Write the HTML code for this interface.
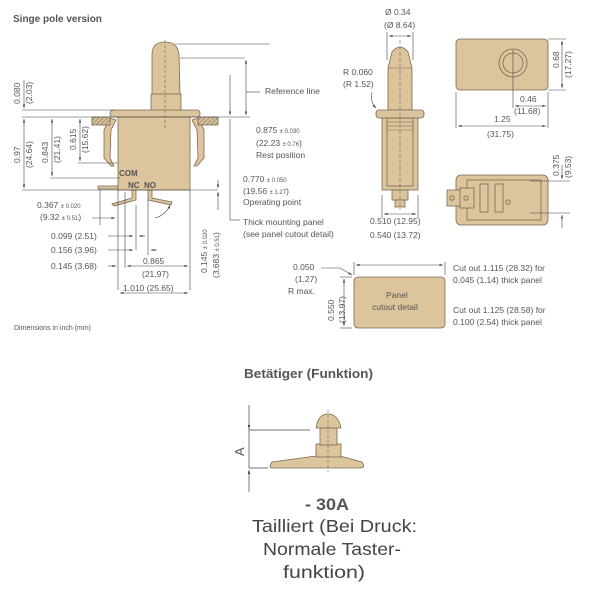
<!DOCTYPE html>
<html><head><style>
body{margin:0;background:#fff}
svg{display:block}
text{font-family:"Liberation Sans",Arial,sans-serif;fill:#555}
</style></head><body>
<svg width="600" height="600" viewBox="0 0 600 600" xmlns="http://www.w3.org/2000/svg">
<defs>
<marker id="a" viewBox="0 0 10 10" refX="10" refY="5" markerWidth="6" markerHeight="6" orient="auto-start-reverse"><path d="M0,2 L10,5 L0,8z" fill="#333"/></marker>
<pattern id="h" width="3" height="3" patternUnits="userSpaceOnUse" patternTransform="rotate(45)"><rect width="3" height="3" fill="#d8bf98"/><line x1="0" y1="0" x2="0" y2="3" stroke="#7a6a50" stroke-width="1"/></pattern>
</defs>
<g font-size="8.5">
<text x="13" y="22" font-weight="bold" font-size="10" fill="#222">Singe pole version</text>

<!-- LEFT VIEW -->
<g stroke="#7a6a50" stroke-width="0.8" fill="#dcc49c">
<path d="M152,95 L152,55 Q152,42 165,42 Q178,42 179,55 L180,95 Z"/>
<rect x="151" y="94" width="30" height="17"/>
<rect x="110" y="110" width="90" height="7" rx="3"/>
<rect x="118" y="117" width="72" height="73"/>
<path d="M110,118 L104,130 L104,158 L111,166 L114,166 L110,158 L111,130 L116,120 Z"/>
<path d="M198,118 L204,130 L204,158 L197,166 L194,166 L198,158 L197,130 L192,120 Z"/>
<rect x="92" y="117" width="18" height="8" fill="url(#h)"/>
<rect x="198" y="117" width="20" height="8" fill="url(#h)"/>
<path d="M98,186 L118,186 L118,189 L98,189 Z"/>
<path d="M132,190 L136,190 L136,200 L114,206 L112,204 L132,198 Z"/>
<path d="M148,190 L152,190 L152,198 L172,202 L171,205 L148,200 Z"/>
</g>
<line x1="165" y1="40" x2="165" y2="130" stroke="#666" stroke-width="0.6" stroke-dasharray="3,2"/>
<text x="119" y="176" font-size="8" font-weight="bold" fill="#222">COM</text>
<text x="128" y="188" font-size="8" font-weight="bold" fill="#222">NC</text>
<text x="144" y="188" font-size="8" font-weight="bold" fill="#222">NO</text>

<g stroke="#444" stroke-width="0.6" fill="none">
<line x1="175" y1="44" x2="270" y2="44"/><line x1="180" y1="58" x2="245" y2="58"/>
<line x1="22" y1="110" x2="115" y2="110"/><line x1="22" y1="117" x2="250" y2="117"/>
<line x1="22" y1="190" x2="218" y2="190"/><line x1="50" y1="178" x2="120" y2="178"/><line x1="78" y1="163" x2="118" y2="163"/>
<line x1="24" y1="80" x2="24" y2="108" marker-end="url(#a)"/>
<line x1="24" y1="119" x2="24" y2="188" marker-start="url(#a)" marker-end="url(#a)"/>
<line x1="52" y1="119" x2="52" y2="176" marker-start="url(#a)" marker-end="url(#a)"/>
<line x1="80" y1="119" x2="80" y2="161" marker-start="url(#a)" marker-end="url(#a)"/>
<line x1="246" y1="60" x2="246" y2="115" marker-start="url(#a)" marker-end="url(#a)"/>
<line x1="260" y1="92" x2="246" y2="92"/>
<line x1="230" y1="75" x2="230" y2="115" marker-end="url(#a)"/>
<line x1="230" y1="119" x2="230" y2="220"/><line x1="230" y1="220" x2="240" y2="220"/>
<line x1="218" y1="180" x2="218" y2="188" marker-end="url(#a)"/>
<line x1="218" y1="210" x2="218" y2="192" marker-end="url(#a)"/>
<line x1="118" y1="190" x2="118" y2="290"/><line x1="190" y1="190" x2="190" y2="290"/>
<line x1="125" y1="192" x2="125" y2="268"/><line x1="136" y1="205" x2="136" y2="250"/><line x1="148" y1="200" x2="148" y2="255"/><line x1="100" y1="189" x2="100" y2="225"/>
<line x1="92" y1="218" x2="115" y2="218" marker-end="url(#a)"/>
<line x1="108" y1="236" x2="133" y2="236" marker-end="url(#a)"/><line x1="145" y1="236" x2="139" y2="236" marker-end="url(#a)"/>
<line x1="108" y1="250" x2="133" y2="250" marker-end="url(#a)"/><line x1="157" y1="250" x2="151" y2="250" marker-end="url(#a)"/>
<line x1="108" y1="266" x2="116" y2="266" marker-end="url(#a)"/><line x1="127" y1="266" x2="188" y2="266" marker-start="url(#a)" marker-end="url(#a)"/>
<line x1="120" y1="293" x2="188" y2="293" marker-start="url(#a)" marker-end="url(#a)"/>
<path d="M155,218 Q166,215 170,205" marker-end="url(#a)"/>
</g>
<text transform="translate(20,104) rotate(-90)">0.080</text><text transform="translate(32,104) rotate(-90)">(2.03)</text>
<text transform="translate(20,163) rotate(-90)">0.97</text><text transform="translate(32,168) rotate(-90)">(24.64)</text>
<text transform="translate(48,163) rotate(-90)">0.843</text><text transform="translate(60,163) rotate(-90)">(21.41)</text>
<text transform="translate(76,150) rotate(-90)">0.615</text><text transform="translate(88,153) rotate(-90)">(15.62)</text>
<text x="265" y="94">Reference line</text>
<text x="256" y="133">0.875 <tspan font-size="6">± 0.030</tspan></text>
<text x="256" y="146">(22.23 <tspan font-size="6">± 0.76</tspan>)</text>
<text x="256" y="158">Rest position</text>
<text x="243" y="182">0.770 <tspan font-size="6">± 0.050</tspan></text>
<text x="243" y="194">(19.56 <tspan font-size="6">± 1.27</tspan>)</text>
<text x="243" y="205">Operating point</text>
<text x="243" y="225">Thick mounting panel</text>
<text x="243" y="237">(see panel cutout detail)</text>
<text x="37" y="208">0.367 <tspan font-size="6">± 0.020</tspan></text>
<text x="40" y="220">(9.32 <tspan font-size="6">± 0.51</tspan>)</text>
<text x="51" y="239">0.099 (2.51)</text>
<text x="51" y="253">0.156 (3.96)</text>
<text x="51" y="269">0.145 (3.68)</text>
<text x="143" y="264">0.865</text><text x="142" y="277">(21.97)</text>
<text x="123" y="291">1.010 (25.65)</text>
<text transform="translate(207,273) rotate(-90)">0.145 <tspan font-size="6">± 0.020</tspan></text>
<text transform="translate(219,278) rotate(-90)">(3.683 <tspan font-size="6">± 0.51</tspan>)</text>
<text x="14" y="330" font-size="7">Dimensions in inch (mm)</text>

<!-- SIDE VIEW -->
<g stroke="#7a6a50" stroke-width="0.8" fill="#dcc49c">
<path d="M388,110 L388,68 L392,52 Q400,42 408,52 L412,68 L412,110Z"/>
<rect x="376" y="110" width="48" height="8" rx="3"/>
<rect x="382" y="118" width="36" height="72"/>
<rect x="387" y="118" width="26" height="68" fill="none"/>
<rect x="392" y="190" width="16" height="10"/>
<rect x="395" y="200" width="10" height="7"/>
</g>
<g stroke="#7a6a50" stroke-width="0.6"><line x1="387" y1="122" x2="413" y2="122"/><line x1="387" y1="126" x2="413" y2="126"/><line x1="387" y1="130" x2="413" y2="130"/><line x1="388" y1="68" x2="412" y2="68"/></g>
<line x1="400" y1="40" x2="400" y2="210" stroke="#666" stroke-width="0.6" stroke-dasharray="4,2"/>
<g stroke="#444" stroke-width="0.6" fill="none">
<line x1="387" y1="32" x2="387" y2="60"/><line x1="413" y1="32" x2="413" y2="60"/>
<line x1="389" y1="36" x2="411" y2="36" marker-start="url(#a)" marker-end="url(#a)"/>
<line x1="382" y1="195" x2="382" y2="218"/><line x1="418" y1="195" x2="418" y2="218"/>
<line x1="384" y1="214" x2="416" y2="214" marker-start="url(#a)" marker-end="url(#a)"/>
<path d="M372,92 Q370,102 376,108" marker-end="url(#a)"/>
</g>
<text x="385" y="15">Ø 0.34</text><text x="384" y="28">(Ø 8.64)</text>
<text x="343" y="75">R 0.060</text><text x="343" y="87">(R 1.52)</text>
<text x="370" y="224">0.510 (12.95)</text><text x="370" y="238">0.540 (13.72)</text>

<!-- TOP VIEW -->
<rect x="456" y="39" width="92" height="51" rx="4" fill="#dcc49c" stroke="#7a6a50" stroke-width="0.8"/>
<circle cx="513" cy="63" r="14" fill="#dcc49c" stroke="#7a6a50" stroke-width="0.8"/>
<circle cx="513" cy="63" r="10" fill="none" stroke="#7a6a50" stroke-width="0.8"/>
<g stroke="#444" stroke-width="0.6" fill="none">
<line x1="513" y1="50" x2="513" y2="108"/>
<line x1="548" y1="39" x2="566" y2="39"/><line x1="548" y1="90" x2="566" y2="90"/>
<line x1="562" y1="41" x2="562" y2="88" marker-start="url(#a)" marker-end="url(#a)"/>
<line x1="548" y1="92" x2="548" y2="128"/><line x1="456" y1="92" x2="456" y2="128"/>
<line x1="515" y1="106" x2="546" y2="106" marker-start="url(#a)" marker-end="url(#a)"/>
<line x1="458" y1="126" x2="546" y2="126" marker-start="url(#a)" marker-end="url(#a)"/>
</g>
<text transform="translate(559,68) rotate(-90)">0.68</text><text transform="translate(571,78) rotate(-90)">(17.27)</text>
<text x="520" y="102">0.46</text><text x="514" y="114">(11.68)</text>
<text x="494" y="122">1.25</text><text x="487" y="137">(31.75)</text>

<!-- BOTTOM VIEW -->
<g stroke="#7a6a50" stroke-width="0.8" fill="#dcc49c">
<rect x="456" y="175" width="92" height="50" rx="5"/>
<rect x="467" y="180" width="74" height="40" fill="none"/>
<rect x="447" y="190" width="16" height="16"/>
<rect x="460" y="188" width="14" height="20"/>
<rect x="480" y="184" width="8" height="28"/>
<rect x="495" y="184" width="8" height="28"/>
<circle cx="452" cy="198" r="2.2" fill="none"/><circle cx="466" cy="198" r="2.2" fill="none"/><circle cx="508" cy="202" r="2.2" fill="none"/>
</g>
<g stroke="#444" stroke-width="0.6" fill="none">
<line x1="530" y1="181" x2="570" y2="181"/><line x1="530" y1="213" x2="570" y2="213"/>
<line x1="562" y1="165" x2="562" y2="179" marker-end="url(#a)"/>
<line x1="562" y1="228" x2="562" y2="215" marker-end="url(#a)"/>
</g>
<text transform="translate(559,176) rotate(-90)">0.375</text><text transform="translate(571,178) rotate(-90)">(9.53)</text>

<!-- PANEL CUTOUT -->
<rect x="354" y="277" width="91" height="51" rx="4" fill="#dcc49c" stroke="#7a6a50" stroke-width="0.8"/>
<text x="386" y="298" font-size="8.5">Panel</text>
<text x="372" y="310" font-size="8.5">cutout detail</text>
<g stroke="#444" stroke-width="0.6" fill="none">
<line x1="354" y1="262" x2="354" y2="275"/><line x1="445" y1="262" x2="445" y2="275"/>
<line x1="356" y1="265" x2="443" y2="265" marker-start="url(#a)" marker-end="url(#a)"/>
<line x1="340" y1="277" x2="352" y2="277"/><line x1="340" y1="328" x2="352" y2="328"/>
<line x1="344" y1="279" x2="344" y2="326" marker-start="url(#a)" marker-end="url(#a)"/>
<path d="M321,268 L340,268 L352,275" marker-end="url(#a)"/>
</g>
<text x="293" y="270">0.050</text><text x="295" y="282">(1.27)</text><text x="288" y="294">R max.</text>
<text transform="translate(334,321) rotate(-90)">0.550</text><text transform="translate(345,323) rotate(-90)">(13.97)</text>
<text x="453" y="271">Cut out 1.115 (28.32) for</text>
<text x="453" y="283">0.045 (1.14) thick panel</text>
<text x="453" y="313">Cut out 1.125 (28.58) for</text>
<text x="453" y="325">0.100 (2.54) thick panel</text>
</g>

<!-- BOTTOM SECTION -->
<text x="244" y="378" font-size="13" font-weight="bold" fill="#222" textLength="129" lengthAdjust="spacingAndGlyphs">Betätiger (Funktion)</text>
<g stroke="#7a6a50" stroke-width="0.8" fill="#dcc49c">
<path d="M272,468 Q268,468 272,462 L316,456 L340,456 L362,462 Q366,468 360,468Z"/>
<rect x="316" y="444" width="25" height="13"/>
<rect x="320" y="428" width="17" height="17"/>
<path d="M316,428 Q318,414 328,414 Q338,414 341,428Z"/>
</g>
<line x1="328" y1="410" x2="328" y2="472" stroke="#666" stroke-width="0.6" stroke-dasharray="3,2"/>
<g stroke="#444" stroke-width="0.7" fill="none">
<line x1="249" y1="405" x2="249" y2="429" marker-end="url(#a)"/>
<line x1="249" y1="492" x2="249" y2="470" marker-end="url(#a)"/>
<line x1="249" y1="429" x2="249" y2="468"/>
<line x1="249" y1="430" x2="310" y2="430"/><line x1="249" y1="468" x2="268" y2="468"/>
</g>
<text transform="translate(244,456) rotate(-90)" font-size="13" fill="#444">A</text>
<text x="305" y="510" font-size="17" font-weight="bold" fill="#222" textLength="44" lengthAdjust="spacingAndGlyphs">- 30A</text>
<text x="252" y="532" font-size="17.5" style="fill:#444" textLength="165" lengthAdjust="spacingAndGlyphs">Tailliert (Bei Druck:</text>
<text x="263" y="555" font-size="17.5" style="fill:#444" textLength="138" lengthAdjust="spacingAndGlyphs">Normale Taster-</text>
<text x="283" y="578" font-size="17.5" style="fill:#444" textLength="82" lengthAdjust="spacingAndGlyphs">funktion)</text>
</svg>
</body></html>
